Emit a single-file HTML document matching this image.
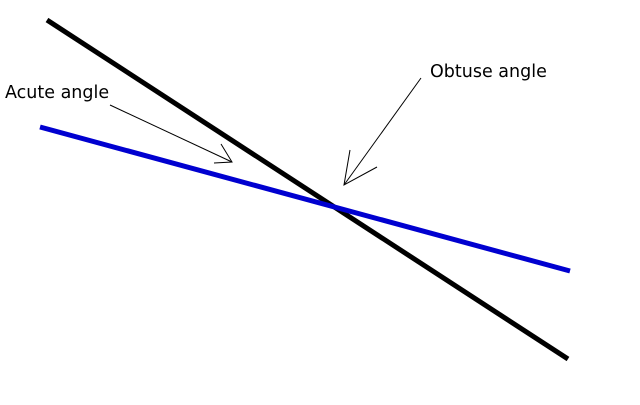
<!DOCTYPE html>
<html><head><style>body{margin:0;background:#fff}</style></head><body>
<svg width="640" height="400" xmlns="http://www.w3.org/2000/svg">
<rect width="640" height="400" fill="#fff"/>
<line x1="47" y1="20" x2="568" y2="359" stroke="#000" stroke-width="5"/>
<line x1="40" y1="127" x2="570" y2="271" stroke="#0000d0" stroke-width="5"/>
<g stroke="#000" stroke-width="1" fill="none">
<line x1="110" y1="105" x2="232" y2="162"/>
<polyline points="221,144 232,162 214,163"/>
<line x1="421" y1="78" x2="344" y2="185"/>
<polyline points="350,150 344,185 377,167"/>
</g>
<text x="5" y="98" font-family="DejaVu Sans, sans-serif" font-size="17.5">Acute angle</text>
<text x="430" y="77" font-family="DejaVu Sans, sans-serif" font-size="17.5">Obtuse angle</text>
</svg>
</body></html>
